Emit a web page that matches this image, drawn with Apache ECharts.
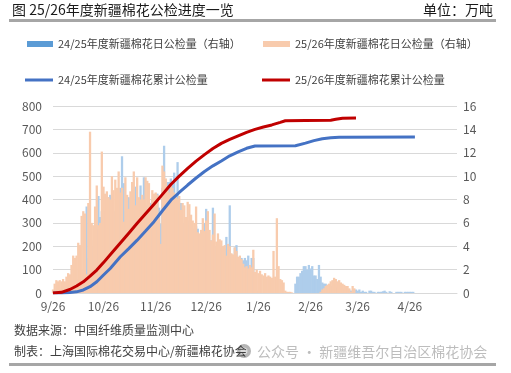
<!DOCTYPE html>
<html><head><meta charset="utf-8">
<script src="https://cdn.jsdelivr.net/npm/echarts@6/dist/echarts.min.js"></script>
<style>html,body{margin:0;padding:0;background:#fff}#c{width:511px;height:373px}</style>
</head><body><div id="c"></div>
<script>
// ---- data ----
const startDate = [2025, 9, 26];
const dayCount = 241;
const tickLabels = ['9/26','10/26','11/26','12/26','1/26','2/26','3/26','4/26'];

const seriesNames = [
  '24/25年度新疆棉花日公检量（右轴）',
  '25/26年度新疆棉花日公检量（右轴）',
  '24/25年度新疆棉花累计公检量',
  '25/26年度新疆棉花累计公检量'
];

// daily inspected volume, 24/25 season (万吨, right axis), from 9/26
const daily2425 = [
  0,0.1,0.1,0.1,0.1,0.2,0.2,0.3,0.3,0.4,
  0.5,0.6,0.8,0.9,1.0,1.2,1.5,1.8,2.0,2.4,
  7.4,3.0,3.5,4.0,4.5,5.0,5.5,8.3,6.5,7.0,
  7.2,7.0,7.5,8.2,8.4,6.5,7.0,7.0,7.5,8.0,
  9.0,11.7,9.4,7.0,8.2,8.2,7.0,7.0,7.0,9.1,
  7.0,7.0,9.2,7.0,9.9,7.5,7.5,7.8,7.7,8.0,
  8.0,8.2,8.5,7.3,5.9,9.0,12.6,9.0,9.5,9.5,
  9.8,9.5,10.3,8.0,11.2,7.0,7.7,6.0,6.0,6.0,
  6.2,5.8,6.0,5.5,5.5,5.7,5.5,5.0,5.2,5.0,
  6.0,7.2,4.5,4.5,4.5,7.3,4.0,4.0,4.0,3.9,
  3.8,3.8,3.8,4.8,4.0,7.5,3.3,3.2,3.9,4.1,
  3.0,3.0,3.0,2.8,3.0,2.8,3.2,2.2,3.0,3.0,
  1.0,0.2,0.1,0,0,0,0,0,0,0,
  0,0,0,0,0,0,0,0,0,0,
  0,0,0,0,0.8,1.4,1.4,1.7,1.9,2.3,
  2.3,2.0,2.4,2.1,2.3,1.5,1.5,1.2,2.4,1.4,
  0.9,0.8,0.8,0.7,0.7,0.6,0.6,0.5,0.5,0.4,
  0.4,0.3,0.3,0.3,0.3,0.3,0.3,0.2,0.2,0.2,
  0.3,0.2,0.3,0.1,0.2,0.1,0.1,0,0.2,0.2,
  0.1,0.1,0,0.1,0.1,0.1,0.15,0.2,0.1,0,
  0.15,0.1,0,0,0.1,0.1,0.1,0.1,0,0.1,
  0.1,0.1,0.1,0.1,0.1
];

// daily inspected volume, 25/26 season (万吨, right axis), from 9/26
const daily2526 = [
  0.3,0.8,1.1,1.0,1.1,1.0,1.2,1.0,1.4,1.7,
  1.6,2.4,3.2,3.0,3.2,4.3,4.1,6.6,7.0,6.8,
  1.6,7.7,13.8,6.0,5.8,7.4,9.2,5.8,6.0,12.1,
  9.1,8.5,8.7,8.2,8.0,10.0,8.8,9.7,9.0,10.4,
  8.6,9.0,6.1,9.9,8.4,7.2,8.7,9.5,10.4,7.5,
  9.9,8.2,8.0,8.4,8.0,9.9,9.6,9.4,7.4,8.8,
  8.5,8.6,8.4,6.5,4.2,10.9,10.4,9.8,9.0,8.6,
  9.2,9.0,8.6,8.2,8.1,8.3,7.1,7.7,7.5,6.5,
  7.8,7.6,6.7,6.2,6.0,7.4,5.2,5.1,5.4,6.4,
  5.3,6.2,7.0,5.4,4.5,5.0,6.8,4.4,5.1,4.6,
  4.5,4.0,4.1,3.2,4.2,4.0,3.4,3.3,3.9,3.6,
  3.1,3.2,2.9,2.5,2.2,2.3,2.1,2.4,2.2,3.7,
  1.8,2.0,1.7,1.9,1.6,1.5,1.7,1.4,1.5,1.4,
  1.3,3.6,1.4,6.4,2.3,1.2,1.1,0.9,0.2,0.1,
  0.1,0.1,0.05,0,0,0,0,0,0,0,
  0,0,0,0,0,0,0,0,0,0.1,
  0.3,0.4,0.6,0.7,0.8,1.0,1.1,1.3,1.2,1.0,
  1.1,0.9,0.8,0.7,0.6,0.6,0.4,0.1,0.6,0.4
];

// cumulative (万吨, left axis): day offset from 9/26 and value read at that day
const cumDays2425 = [0,5,10,14,18,22,26,30,34,40,45,50,55,60,65,70,75,80,85,90,95,100,105,110,115,120,144,150,155,160,165,170,215];
const cum2425     = [0,0,2,5,13,27,48,77,105,155,190,226,265,305,352,397,430,462,492,520,544,565,587,604,619,629,630,641,652,660,664,666,667];
const cumDays2526 = [0,5,10,14,18,22,26,30,35,40,45,50,55,60,65,70,75,80,85,90,95,100,105,110,115,120,125,130,135,138,150,165,168,172,180];
const cum2526     = [0,3,15,30,48,72,98,130,172,214,256,298,339,380,422,464,500,533,564,592,618,640,657,672,687,700,710,719,730,737,738,739,743,748,749];

// ---- build ----
const categories = [];
{
  const base = Date.UTC(startDate[0], startDate[1]-1, startDate[2]);
  for (let i = 0; i < dayCount; i++) {
    const d = new Date(base + i*86400000);
    categories.push((d.getUTCMonth()+1) + '/' + d.getUTCDate());
  }
}
const pairs = (xs, ys) => xs.map((x, i) => [x, ys[i]]);

const FONT = "'Noto Sans CJK SC', 'Noto Sans', sans-serif";
const chart = echarts.init(document.getElementById('c'), null, {renderer: 'canvas'});

const legendBase = (name, left, top, icon, w, h, color) => ({
  data: [{name, itemStyle: {color}}],
  left, top, padding: 0, icon, itemWidth: w, itemHeight: h, selectedMode: false,
  textStyle: {fontFamily: FONT, fontSize: 11, color: '#404040', lineHeight: 14}
});

chart.setOption({
  animation: false,
  backgroundColor: '#fff',
  textStyle: {fontFamily: FONT},
  title: [
    {text: '图 25/26年度新疆棉花公检进度一览', left: 12, top: 1, padding: 0,
     textStyle: {fontFamily: FONT, fontSize: 14, fontWeight: 'normal', color: '#1a1a1a', lineHeight: 17}},
    {text: '单位：万吨', right: 18, top: 1, padding: 0,
     textStyle: {fontFamily: FONT, fontSize: 14, fontWeight: 'normal', color: '#1a1a1a', lineHeight: 17}},
    {text: '数据来源：中国纤维质量监测中心', left: 14, top: 322, padding: 0,
     textStyle: {fontFamily: FONT, fontSize: 12, fontWeight: 'normal', color: '#404040', lineHeight: 16}},
    {text: '制表：上海国际棉花交易中心/新疆棉花协会', left: 14, top: 343, padding: 0,
     textStyle: {fontFamily: FONT, fontSize: 12, fontWeight: 'normal', color: '#404040', lineHeight: 16}},
    {text: '公众号 · 新疆维吾尔自治区棉花协会', left: 257, top: 343, padding: 0,
     textStyle: {fontFamily: FONT, fontSize: 14, fontWeight: 'normal', color: '#bdbdbd', lineHeight: 17}}
  ],
  graphic: [
    {type: 'rect', shape: {x: 9, y: 19, width: 487, height: 3}, style: {fill: '#a6a6a6'}, silent: true},
    {type: 'rect', shape: {x: 9, y: 363, width: 487, height: 3}, style: {fill: '#a6a6a6'}, silent: true},
    {type: 'circle', shape: {cx: 244, cy: 351, r: 7}, style: {fill: '#b5b5b5'}, silent: true},
    {type: 'circle', shape: {cx: 244, cy: 351, r: 3.5}, style: {fill: '#dcdcdc'}, silent: true}
  ],
  legend: [
    legendBase(seriesNames[0], 27, 37, 'rect', 26, 6, '#5b9bd5'),
    legendBase(seriesNames[1], 263, 37, 'rect', 27, 6, '#f8cbad'),
    legendBase(seriesNames[2], 25, 73, 'rect', 28, 3, '#4472c4'),
    legendBase(seriesNames[3], 262, 73, 'rect', 28, 3, '#c00000')
  ],
  grid: {left: 53, right: 54, top: 106, bottom: 80, containLabel: false},
  xAxis: {
    type: 'category',
    data: categories,
    boundaryGap: false,
    axisLine: {show: true, lineStyle: {color: '#d9d9d9', width: 1}},
    axisTick: {show: false},
    axisLabel: {
      interval: (idx, val) => tickLabels.includes(val),
      color: '#595959', fontSize: 12, fontFamily: FONT, margin: 7
    },
    splitLine: {show: false}
  },
  yAxis: [
    {type: 'value', min: 0, max: 800, interval: 100, position: 'left',
     axisLine: {show: false}, axisTick: {show: false},
     axisLabel: {color: '#595959', fontSize: 12, fontFamily: FONT, margin: 11},
     splitLine: {show: true, lineStyle: {color: '#d9d9d9', width: 1}}},
    {type: 'value', min: 0, max: 16, interval: 2, position: 'right',
     axisLine: {show: false}, axisTick: {show: false},
     axisLabel: {color: '#595959', fontSize: 12, fontFamily: FONT, margin: 6},
     splitLine: {show: false}}
  ],
  series: [
    {name: seriesNames[0], type: 'bar', yAxisIndex: 1, data: daily2425,
     barGap: '-100%', barWidth: 2.3, itemStyle: {color: '#aecdeb'}, z: 2},
    {name: seriesNames[1], type: 'bar', yAxisIndex: 1, data: daily2526,
     barGap: '-100%', barWidth: 2.3, itemStyle: {color: '#f8cbad'}, z: 2},
    {name: seriesNames[2], type: 'line', yAxisIndex: 0, data: pairs(cumDays2425, cum2425),
     showSymbol: false, symbol: 'none', color: '#4472c4', itemStyle: {color: '#4472c4'},
     lineStyle: {color: '#4472c4', width: 3}, z: 3},
    {name: seriesNames[3], type: 'line', yAxisIndex: 0, data: pairs(cumDays2526, cum2526),
     showSymbol: false, symbol: 'none', color: '#c00000', itemStyle: {color: '#c00000'},
     lineStyle: {color: '#c00000', width: 3}, z: 4}
  ]
});
</script>
</body></html>
